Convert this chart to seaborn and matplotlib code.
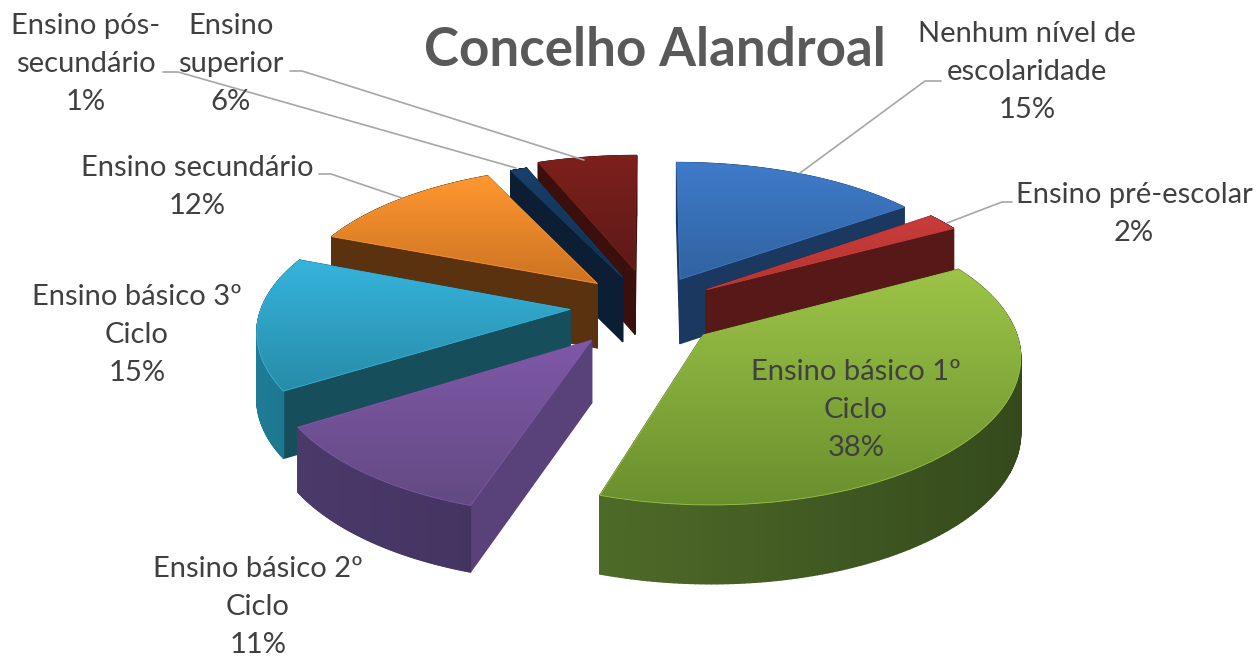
import numpy as np
import matplotlib
matplotlib.use("Agg")
import matplotlib.pyplot as plt
import seaborn as sns
from matplotlib.path import Path
from matplotlib.transforms import Transform
from matplotlib.collections import PolyCollection

categories = ["Nenhum nível de\nescolaridade", "Ensino pré-escolar", "Ensino básico 1º\nCiclo",
              "Ensino básico 2º\nCiclo", "Ensino básico 3º\nCiclo", "Ensino secundário",
              "Ensino pós-\nsecundário", "Ensino\nsuperior"]
values = [15, 2, 38, 11, 15, 12, 1, 6]
explode = [0.22, 0.22, 0.22, 0.30, 0.26, 0.24, 0.23, 0.27]
drop = [0, 0, 9, 0, 0, 0, 0, 0]
thick = [1, 1, 1.13, 0.95, 1, 1, 1, 1]
top_hi = ["#3F7BCB", "#C93C3A", "#9DC447", "#7F58A8", "#36B4DC", "#FF9730", "#17406B", "#7E201C"]
top_lo = ["#30639F", "#B53532", "#6A8F2E", "#634A82", "#278CA8", "#CC7322", "#0F2E50", "#5C1A18"]
rim_l = ["#1A3A64", "#5E1A18", "#4E6A28", "#4A3A6A", "#1F7C96", "#5A3210", "#0C2036", "#541816"]
rim_r = ["#1A3A64", "#5E1A18", "#344A1C", "#40305C", "#124A5A", "#5A3210", "#0C2036", "#541816"]
radial = ["#1A3860", "#561917", "#2E4218", "#59417A", "#174E5C", "#5A3210", "#0B1E33", "#3A0F0C"]
label_pos = [(1027, 72), (1134, 214), (856, 410), (258, 607), (137, 335), (197, 187), (86, 64), (231, 64)]
draw_order = [7, 6, 0, 5, 1, 4, 3, 2]
leaders = [[(800, 173), (925, 81), (941, 81)], [(947, 223), (1002, 202), (1012, 202)],
           [(402, 198), (331, 174), (319, 174)], [(516, 168), (178, 72), (163, 72)],
           [(584, 160), (302, 71), (290, 71)]]

sns.set_theme(style="white")
plt.rcParams["font.family"] = ["Lato", "DejaVu Sans"]
CX, CY, RX, AY, KX, KY, KZ, DEPTH = 650, 306, 308, 140, 0.13, 0.14, 0.06, 65


class Persp(Transform):
    input_dims = output_dims = 2
    is_separable = False
    has_inverse = False

    def __init__(self, z=0.0, dy=0.0):
        super().__init__()
        self.z = z
        self.dy = dy

    def transform_non_affine(self, values):
        v = np.asarray(values, float)
        x, y = v[:, 0], v[:, 1]
        return np.column_stack([CX + RX * x / (1 + KX * y),
                                CY + self.dy - AY * y / (1 + KY * y) + DEPTH * self.z / (1 + KZ * y)])


fig, ax = plt.subplots(figsize=(12.59, 6.57), dpi=100)
fig.subplots_adjust(0, 0, 1, 1)
wedges, _ = ax.pie(values, explode=explode, startangle=90, counterclock=False, radius=1,
                   colors=sns.color_palette(top_hi))
z = 2
rgb = matplotlib.colors.to_rgb
for i in draw_order:
    top, bottom = Persp(0, drop[i]), Persp(thick[i], drop[i])
    w = wedges[i]
    c = np.array(w.center)
    th = np.radians(np.linspace(w.theta1, w.theta2, 160))
    arc = c + w.r * np.column_stack([np.cos(th), np.sin(th)])
    outline = np.vstack([c, arc, c])
    pix_t, pix_b = top.transform_non_affine(outline), bottom.transform_non_affine(outline)
    x0, x1 = pix_t[:, 0].min(), pix_t[:, 0].max()
    y0, y1 = pix_t[:, 1].min(), pix_t[:, 1].max()
    sl, sr = np.array(rgb(rim_l[i])), np.array(rgb(rim_r[i]))

    quads, cols, key = [], [], []
    n = len(outline) - 1
    for j in range(n):
        q = [pix_t[j], pix_t[j + 1], pix_b[j + 1], pix_b[j]]
        f = np.clip((pix_t[j, 0] - x0) / max(x1 - x0, 1), 0, 1)
        quads.append(q)
        cols.append(np.array(rgb(radial[i])) if j in (0, n - 1) else sl * (1 - f) + sr * f)
        key.append(-(outline[j, 1] + outline[j + 1, 1]))
    order = np.argsort(key)
    ax.add_collection(PolyCollection([quads[o] for o in order], facecolors=[cols[o] for o in order],
                                     edgecolors=[cols[o] for o in order], linewidths=1.0, zorder=z))
    z += 1

    t = np.linspace(0, 1, 64)[:, None, None]
    grad = np.array(rgb(top_hi[i]))[None, None, :] * (1 - t) + np.array(rgb(top_lo[i]))[None, None, :] * t
    im = ax.imshow(grad, extent=(x0, x1, y1, y0), origin="upper", aspect="auto", zorder=z, interpolation="bilinear")
    im.set_clip_path(Path(outline, closed=True), top + ax.transData)
    z += 1
    w.set_transform(top + ax.transData)
    w.set(facecolor="none", edgecolor=top_hi[i], linewidth=0.6, zorder=z)
    z += 1

ax.set_xlim(0, 1259)
ax.set_ylim(657, 0)
ax.set_aspect("auto")
ax.set_axis_off()

for seg in leaders:
    xs, ys = zip(*seg)
    ax.plot(xs, ys, color="#A6A6A6", lw=1.2, zorder=100)
for lab, v, (x, y) in zip(categories, values, label_pos):
    ax.text(x, y, f"{lab}\n{v}%", ha="center", va="center", fontsize=21, color="#404040",
            linespacing=1.59, zorder=101)
ax.text(655, 51, "Concelho Alandroal", ha="center", va="center", fontsize=38.2, fontweight="bold",
        color="#595959", zorder=101)
fig.savefig("out.png", dpi=100, facecolor="white")
